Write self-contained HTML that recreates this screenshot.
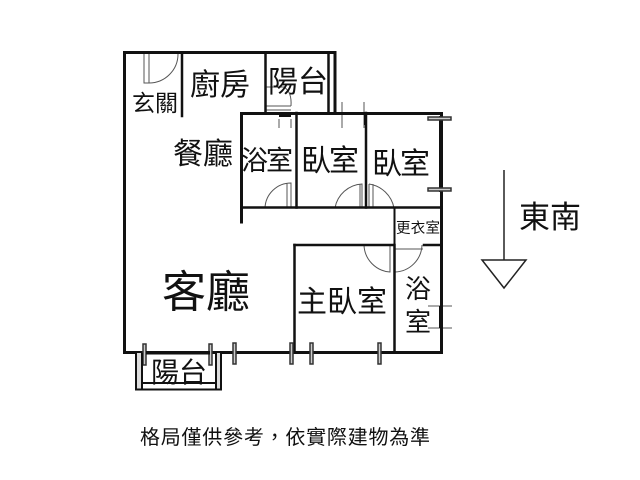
<!DOCTYPE html>
<html>
<head>
<meta charset="utf-8">
<style>
html,body{margin:0;padding:0;background:#fff;width:640px;height:480px;overflow:hidden}
svg{display:block}
text{font-family:"Liberation Sans","Noto Sans CJK TC",sans-serif;fill:#111;text-anchor:middle}
</style>
</head>
<body>
<svg width="640" height="480" viewBox="0 0 640 480" xmlns="http://www.w3.org/2000/svg">
<rect width="640" height="480" fill="#fff"/>
<!-- thin details -->
<g fill="none" stroke="#555" stroke-width="1">
<path d="M144 52V83H149M149 52V83"/>
<path d="M149 83A29 29 0 0 0 178 54"/>
<path d="M279 119V128M291 119V128"/>
<path d="M266 87H284Q292 92 291 106"/>
<path d="M266 106H291M266 110H291"/>
<path d="M265 208A26 26 0 0 1 291 183H291V208M287 183V208"/>
<path d="M335 208A29 29 0 0 1 362 184V208M360 184V208"/>
<path d="M369 184V208M373 184V208M369 184A30 30 0 0 1 394 208"/>
<path d="M364 245A28 28 0 0 0 390 272V245M390 245"/>
<path d="M395 272A28 28 0 0 0 422 245M395 249H423"/>
<path d="M342 102V128M364 102V128"/>
<path d="M428 306H452M428 328H452"/>
</g>
<!-- walls -->
<g fill="none" stroke="#111" stroke-width="3" stroke-linecap="square">
<path d="M124.500 52.500H335V113M124.500 52.500V352.500H441.500V113.500H241.500V222"/>
<path d="M182 53V116" stroke-width="2.500"/>
<path d="M265.500 53V113" stroke-width="2.500"/>
<path d="M328.500 53V113" stroke-width="2.500"/>
<path d="M296.500 113V207.500" stroke-width="2.500"/>
<path d="M366 113V207.500" stroke-width="2.500"/>
<path d="M241.500 207.500H441" stroke-width="2.500"/>
<path d="M394.500 208V244" stroke-width="2"/>
<path d="M294.500 245V352" stroke-width="2.500"/>
<path d="M294.500 245H394" stroke-width="2.500"/>
<path d="M394.500 245V350" stroke-width="2.500"/>
<path d="M424 245H441" stroke-width="2.500"/>
</g>
<rect x="279" y="112" width="12" height="5" fill="#111"/>
<rect x="364" y="113" width="3" height="12" fill="#111"/>
<rect x="439" y="116" width="4" height="76" fill="#111"/>
<rect x="439" y="306" width="4" height="22" fill="#111"/>
<!-- windows -->
<g fill="#ccc" stroke="#333" stroke-width="1.500">
<rect x="428" y="117" width="23" height="3"/>
<rect x="428" y="188" width="23" height="3"/>
<rect x="143" y="344" width="3" height="21"/>
<rect x="209" y="344" width="3" height="21"/>
<rect x="233" y="343" width="3" height="21"/>
<rect x="290" y="343" width="3" height="21"/>
<rect x="310" y="343" width="3" height="21"/>
<rect x="378" y="343" width="3" height="21"/>
</g>
<!-- balcony -->
<rect x="146" y="351" width="64" height="3.500" fill="#111"/>
<rect x="137" y="353" width="5" height="36" fill="#ddd"/>
<rect x="216" y="353" width="5" height="36" fill="#ddd"/>
<g fill="none" stroke="#111" stroke-width="2">
<path d="M136 353V389.500H221V353"/>
<path d="M142 353V389M216 353V389"/>
<path d="M142 383H216"/>
</g>
<!-- arrow -->
<path d="M504 170V260" stroke="#222" stroke-width="1.500" fill="none"/>
<path d="M482 260H526L504 288Z" fill="#fff" stroke="#222" stroke-width="1.500"/>
<!-- labels -->
<text x="155" y="111" font-size="23" textLength="46" lengthAdjust="spacingAndGlyphs">玄關</text>
<text x="220" y="95" font-size="30" textLength="60">廚房</text>
<text x="298" y="92" font-size="30" textLength="60">陽台</text>
<text x="203" y="164" font-size="30" textLength="60">餐廳</text>
<text x="267" y="170" font-size="27" textLength="52">浴室</text>
<text x="330" y="171" font-size="30" textLength="58">臥室</text>
<text x="401" y="174" font-size="30" textLength="58">臥室</text>
<text x="418" y="233" font-size="14.500" textLength="44">更衣室</text>
<text x="206" y="307" font-size="44" textLength="88">客廳</text>
<text x="342" y="312" font-size="30" textLength="90">主臥室</text>
<text x="418" y="298" font-size="26">浴</text>
<text x="418" y="331" font-size="26">室</text>
<text x="179" y="382" font-size="28" textLength="56">陽台</text>
<text x="550" y="228" font-size="31" textLength="62">東南</text>
<text x="285" y="444" font-size="20" textLength="290">格局僅供參考，依實際建物為準</text>
</svg>
</body>
</html>
